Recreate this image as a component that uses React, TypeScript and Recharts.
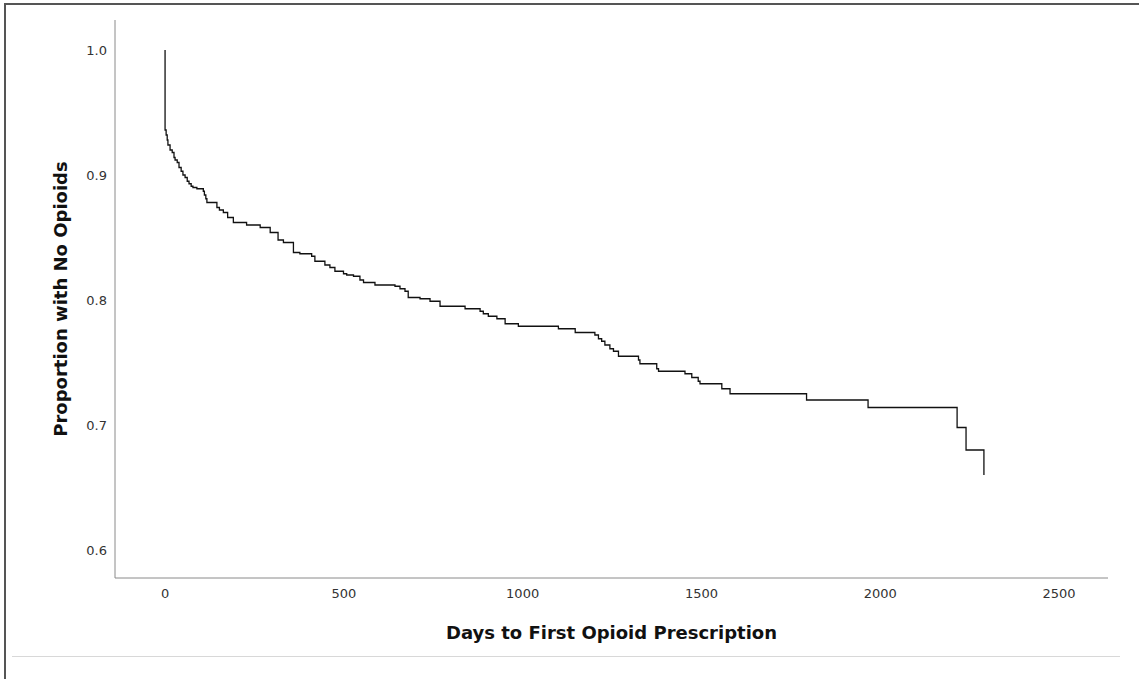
import React from "react";
import { LineChart, Line, XAxis, YAxis, Label } from "recharts";

const days = [0, 0, 3, 6, 8, 14, 20, 25, 28, 34, 39, 45, 50, 56, 62, 67, 73, 78, 89, 107, 110, 114, 117, 145, 152, 163, 175, 191, 228, 266, 294, 316, 331, 359, 377, 410, 419, 447, 461, 475, 499, 508, 527, 545, 555, 587, 643, 657, 671, 680, 713, 741, 769, 839, 881, 890, 904, 928, 951, 988, 1100, 1147, 1202, 1212, 1221, 1230, 1244, 1254, 1268, 1324, 1328, 1375, 1380, 1454, 1473, 1491, 1496, 1557, 1580, 1794, 1966, 2215, 2240, 2290];

const proportion = [1.0, 0.936, 0.932, 0.928, 0.924, 0.920, 0.918, 0.914, 0.912, 0.910, 0.906, 0.903, 0.900, 0.898, 0.895, 0.893, 0.891, 0.890, 0.889, 0.887, 0.884, 0.881, 0.878, 0.874, 0.872, 0.870, 0.866, 0.862, 0.860, 0.858, 0.854, 0.848, 0.846, 0.838, 0.837, 0.835, 0.831, 0.828, 0.826, 0.823, 0.821, 0.820, 0.819, 0.816, 0.814, 0.812, 0.811, 0.809, 0.807, 0.802, 0.801, 0.799, 0.795, 0.793, 0.791, 0.789, 0.787, 0.785, 0.781, 0.779, 0.777, 0.774, 0.772, 0.769, 0.767, 0.764, 0.761, 0.759, 0.755, 0.752, 0.749, 0.745, 0.743, 0.741, 0.738, 0.735, 0.733, 0.729, 0.725, 0.720, 0.714, 0.698, 0.680, 0.660];

const xTicks = [0, 500, 1000, 1500, 2000, 2500];
const yTicks = [0.6, 0.7, 0.8, 0.9, 1.0];

const xTitle = "Days to First Opioid Prescription";
const yTitle = "Proportion with No Opioids";

const data = days.map((d, i) => ({ day: d, value: proportion[i] }));

const FONT = "'DejaVu Sans', 'Open Sans', sans-serif";

const YTitle = (props: any) => {
  const vb = props.viewBox || { x: 55, y: 20, width: 60, height: 558 };
  const cx = vb.x + 5;
  const cy = vb.y + vb.height / 2;
  return (
    <text
      x={cx}
      y={cy}
      transform={`rotate(-90 ${cx} ${cy})`}
      textAnchor="middle"
      dominantBaseline="central"
      fontFamily={FONT}
      fontWeight="bold"
      fontSize={18}
      fill="#111"
    >
      {yTitle}
    </text>
  );
};

const XTitle = (props: any) => {
  const vb = props.viewBox || { x: 115, y: 578, width: 993, height: 60 };
  const cx = vb.x + vb.width / 2;
  const cy = vb.y + 54;
  return (
    <text
      x={cx}
      y={cy}
      textAnchor="middle"
      dominantBaseline="central"
      fontFamily={FONT}
      fontWeight="bold"
      fontSize={18}
      fill="#111"
    >
      {xTitle}
    </text>
  );
};

export default function App() {
  return (
    <div style={{ position: "absolute", left: 0, top: 0, width: 1139, height: 679, background: "#fff" }}>
      <div
        style={{
          position: "absolute",
          left: 4,
          top: 3,
          width: 1135,
          height: 676,
          borderTop: "2px solid #555",
          borderLeft: "2px solid #555",
          boxSizing: "border-box",
        }}
      />
      <div
        style={{
          position: "absolute",
          left: 12,
          top: 656,
          width: 1108,
          height: 0,
          borderTop: "1px solid #d8d8d8",
        }}
      />
      <div style={{ position: "absolute", left: 0, top: 0 }}>
        <LineChart
          width={1139}
          height={679}
          data={data}
          margin={{ top: 20, right: 31, left: 55, bottom: 41 }}
        >
          <XAxis
            dataKey="day"
            type="number"
            domain={[-140, 2637]}
            ticks={xTicks}
            tickLine={false}
            tickMargin={5}
            height={60}
            axisLine={{ stroke: "#8a8a8a", strokeWidth: 1 }}
            tick={{ fill: "#333", fontSize: 13, fontFamily: FONT }}
            interval={0}
          >
            <Label content={<XTitle />} />
          </XAxis>
          <YAxis
            dataKey="value"
            type="number"
            domain={[0.5776, 1.024]}
            ticks={yTicks}
            tickFormatter={(v: number) => v.toFixed(1)}
            tickLine={false}
            width={60}
            axisLine={{ stroke: "#8a8a8a", strokeWidth: 1 }}
            tick={{ fill: "#333", fontSize: 13, fontFamily: FONT }}
            interval={0}
          >
            <Label content={<YTitle />} />
          </YAxis>
          <Line
            type="stepAfter"
            dataKey="value"
            stroke="#111"
            strokeWidth={1.3}
            dot={false}
            activeDot={false}
            isAnimationActive={false}
          />
        </LineChart>
      </div>
    </div>
  );
}
